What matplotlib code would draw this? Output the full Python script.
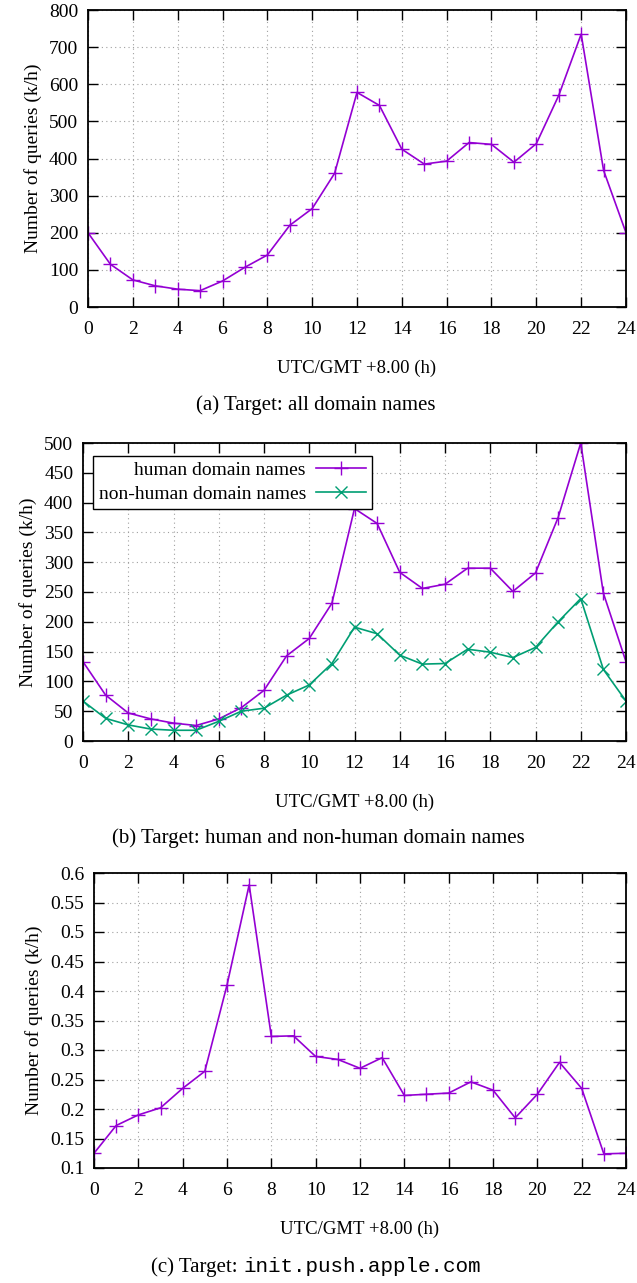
import numpy as np
import matplotlib
matplotlib.use('Agg')
from matplotlib import pyplot as plt

plt.rcParams['font.family'] = 'Liberation Serif'
plt.rcParams['font.size'] = 14

hours = list(range(25))

all_names = [200, 115, 73, 57, 48, 44, 70, 107, 140, 220, 265, 360, 578,
             543, 425, 385, 393, 443, 438, 390, 440, 570, 735, 368, 200]

human = [133, 77, 47, 37, 30, 26, 37, 56, 85, 143, 172, 231, 390,
         365, 283, 256, 263, 290, 290, 251, 282, 375, 500, 248, 133]
non_human = [67, 38, 27, 20, 18, 18, 33, 50, 55, 77, 94, 130, 191,
             180, 144, 129, 130, 154, 149, 140, 157, 200, 239, 120, 67]

apple = [0.125, 0.172, 0.19, 0.202, 0.235, 0.264, 0.41, 0.58, 0.323, 0.324,
         0.289, 0.284, 0.269, 0.287, 0.223, 0.225, 0.227, 0.246, 0.232,
         0.185, 0.225, 0.279, 0.235, 0.124, 0.125]

purple = '#9400D3'
green = '#009E73'

W, H = 637, 1283
fig = plt.figure(figsize=(W / 100, H / 100), dpi=100)


def make_axes(left, top, right, bottom):
    return fig.add_axes([left / W, 1 - bottom / H, (right - left) / W, (bottom - top) / H])


def style(ax, ylim, yticks, yfmt):
    ax.set_xlim(0, 24)
    ax.set_ylim(*ylim)
    ax.set_xticks(range(0, 25, 2))
    ax.set_yticks(yticks)
    ax.set_yticklabels([yfmt(v) for v in yticks])
    ax.tick_params(direction='in', length=7, width=1, top=True, right=True, pad=7,
                   labelsize=14)
    ax.tick_params(axis='x', pad=10)
    ax.grid(True, color='#a0a0a0', linestyle=(0, (1, 3)), linewidth=0.8)
    for s in ax.spines.values():
        s.set_linewidth(1.3)
    ax.set_xlabel('UTC/GMT +8.00 (h)', labelpad=16, fontsize=13.5)
    ax.set_ylabel('Number of queries (k/h)', labelpad=5, fontsize=14)


ax1 = make_axes(88, 10, 626, 307)
ax1.plot(hours, all_names, color=purple, marker='+', markersize=10, linewidth=1.2)
style(ax1, (0, 800), range(0, 801, 100), lambda v: '%d' % v)
fig.text(316 / W, 1 - 405 / H, '(a) Target: all domain names', ha='center', va='center',
         fontsize=15)

ax2 = make_axes(83, 443, 626, 741)
ax2.plot(hours, human, color=purple, marker='+', markersize=10, linewidth=1.2,
         label='human domain names')
ax2.plot(hours, non_human, color=green, marker='x', markersize=8, linewidth=1.2,
         label='non-human domain names')
style(ax2, (0, 500), range(0, 501, 50), lambda v: '%d' % v)
leg = ax2.legend(loc='upper left', bbox_to_anchor=(0.018, 0.957), markerfirst=False,
                 fancybox=False, edgecolor='black', framealpha=1, borderpad=0.3,
                 handlelength=2.6, handletextpad=0.5, labelspacing=0.3,
                 borderaxespad=0, fontsize=14)
leg.get_frame().set_linewidth(1.0)
fig.text(318 / W, 1 - 838 / H, '(b) Target: human and non-human domain names',
         ha='center', va='center', fontsize=15)

ax3 = make_axes(94, 873, 626, 1168)
ax3.plot(hours, apple, color=purple, marker='+', markersize=10, linewidth=1.2)
style(ax3, (0.1, 0.6), np.round(np.arange(0.1, 0.601, 0.05), 2), lambda v: ('%g' % v))

# caption (c): serif part + monospace part, centred together
cy = 1 - 1267 / H
t1 = fig.text(0, cy, '(c) Target: ', ha='left', va='center', fontsize=15)
t2 = fig.text(0, cy, 'init.push.apple.com', ha='left', va='center', fontsize=15,
              family='Liberation Mono')
r = fig.canvas.get_renderer()
w1 = t1.get_window_extent(r).width / W
w2 = t2.get_window_extent(r).width / W
x0 = 316 / W - (w1 + w2) / 2
t1.set_x(x0)
t2.set_x(x0 + w1)

fig.savefig('out.png', dpi=100)
